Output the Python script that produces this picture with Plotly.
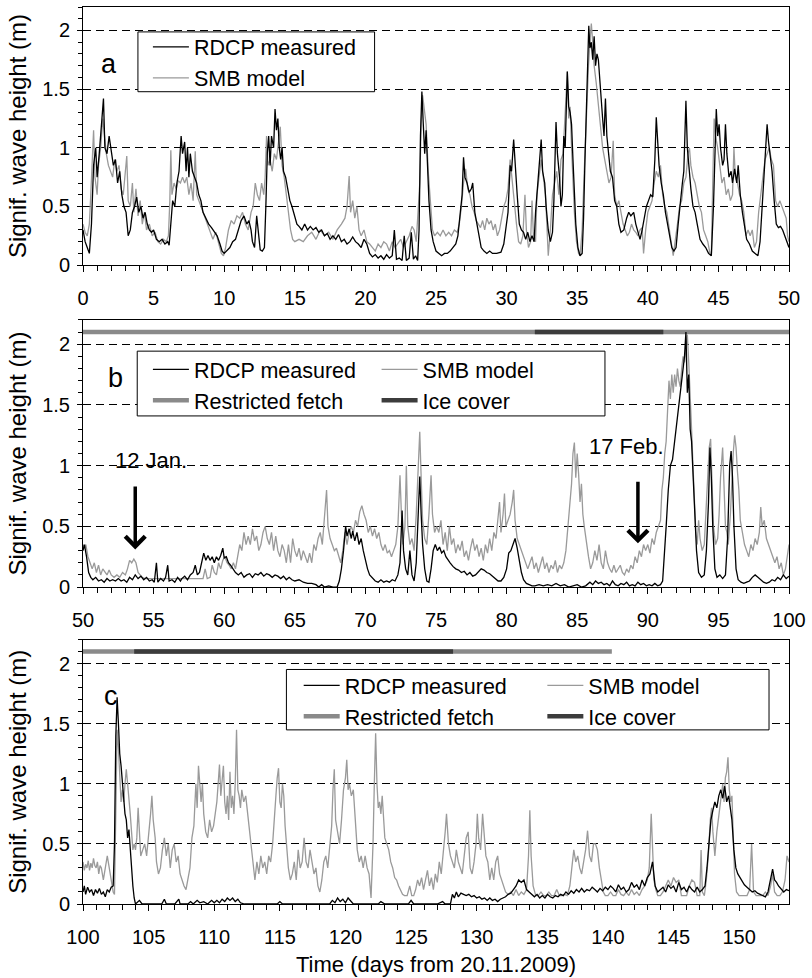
import plotly.graph_objects as go

# ---------------- Panel a (days 0-50) ----------------
A_RDCP_T = [0.0,0.15,0.3,0.45,0.6,0.75,0.9,1.0,1.15,1.3,1.45,1.55,1.7,1.85,2.0,2.15,2.3,2.45,2.6,2.75,2.9,3.05,3.2,3.35,3.5,3.65,3.8,3.95,4.1,4.25,4.4,4.55,4.7,4.85,5.0,5.2,5.4,5.6,5.8,6.0,6.1,6.2,6.35,6.5,6.65,6.8,6.95,7.05,7.2,7.3,7.4,7.5,7.6,7.75,7.9,8.05,8.2,8.35,8.5,8.7,8.9,9.1,9.3,9.5,9.7,9.85,10.0,10.2,10.4,10.6,10.8,11.0,11.2,11.4,11.6,11.75,11.9,12.0,12.15,12.3,12.4,12.55,12.7,12.85,12.95,13.05,13.15,13.25,13.35,13.5,13.6,13.7,13.8,13.9,14.0,14.1,14.2,14.35,14.5,14.65,14.8,15.0,15.15,15.3,15.5,15.7,15.9,16.1,16.3,16.5,16.7,16.9,17.1,17.3,17.5,17.7,17.9,18.1,18.3,18.5,18.7,18.9,19.1,19.3,19.5,19.7,19.9,20.1,20.3,20.5,20.7,20.9,21.1,21.3,21.5,21.7,21.9,22.05,22.2,22.4,22.6,22.75,22.9,23.1,23.25,23.4,23.55,23.7,23.8,23.9,24.0,24.1,24.2,24.3,24.4,24.5,24.65,24.8,25.0,25.2,25.4,25.6,25.8,26.0,26.2,26.4,26.55,26.7,26.85,26.95,27.05,27.2,27.35,27.5,27.6,27.75,27.9,28.05,28.2,28.4,28.6,28.8,29.0,29.3,29.6,29.8,29.95,30.1,30.25,30.35,30.5,30.6,30.75,30.9,31.05,31.2,31.35,31.5,31.65,31.8,31.95,32.05,32.2,32.3,32.45,32.55,32.7,32.8,32.95,33.1,33.25,33.35,33.5,33.6,33.75,33.85,33.95,34.05,34.15,34.3,34.4,34.5,34.6,34.7,34.8,34.9,35.05,35.2,35.35,35.45,35.55,35.65,35.75,35.82,35.9,36.0,36.1,36.2,36.3,36.4,36.5,36.6,36.7,36.8,36.9,37.0,37.1,37.2,37.35,37.5,37.65,37.8,37.95,38.1,38.3,38.5,38.65,38.8,39.0,39.15,39.3,39.45,39.6,39.75,39.9,40.05,40.2,40.35,40.5,40.6,40.7,40.8,40.95,41.1,41.25,41.4,41.55,41.7,41.85,42.0,42.15,42.3,42.45,42.55,42.7,42.8,42.9,43.05,43.2,43.35,43.5,43.7,43.9,44.1,44.3,44.5,44.65,44.75,44.85,44.95,45.05,45.15,45.3,45.4,45.5,45.6,45.75,45.9,46.0,46.15,46.3,46.4,46.55,46.7,46.85,47.0,47.2,47.4,47.6,47.8,47.95,48.1,48.25,48.35,48.45,48.55,48.65,48.8,48.95,49.1,49.25,49.4,49.55,49.7,49.85,50.0]
A_RDCP_H = [0.30,0.2,0.15,0.1,0.35,0.85,1.0,0.75,0.95,1.2,1.42,1.0,0.95,1.1,0.95,0.85,0.9,0.7,0.8,0.6,0.5,0.45,0.25,0.3,0.45,0.5,0.58,0.45,0.5,0.4,0.45,0.35,0.3,0.28,0.3,0.22,0.2,0.22,0.18,0.2,0.17,0.3,0.55,0.5,0.7,0.8,1.1,0.95,1.05,0.8,1.0,0.75,0.95,0.8,0.75,0.7,0.6,0.55,0.45,0.4,0.35,0.32,0.28,0.25,0.18,0.12,0.1,0.13,0.15,0.2,0.22,0.3,0.38,0.42,0.35,0.38,0.3,0.2,0.15,0.42,0.3,0.13,0.12,0.15,0.5,0.95,1.1,0.85,1.1,1.0,1.33,1.15,1.25,1.0,0.9,1.0,0.8,0.75,0.65,0.55,0.5,0.4,0.35,0.33,0.3,0.35,0.3,0.33,0.3,0.32,0.28,0.3,0.25,0.27,0.22,0.25,0.22,0.26,0.2,0.22,0.18,0.2,0.24,0.2,0.18,0.15,0.22,0.18,0.1,0.07,0.09,0.06,0.08,0.05,0.09,0.06,0.08,0.3,0.05,0.06,0.04,0.25,0.04,0.06,0.28,0.05,0.08,0.04,0.3,1.1,1.48,1.2,0.95,1.15,0.8,0.55,0.3,0.2,0.12,0.1,0.08,0.1,0.1,0.12,0.15,0.18,0.25,0.4,0.6,0.92,0.75,0.7,0.62,0.65,0.7,0.45,0.35,0.22,0.15,0.12,0.1,0.12,0.1,0.1,0.11,0.18,0.3,0.45,0.85,0.8,1.07,0.85,0.6,0.35,0.3,0.28,0.22,0.28,0.2,0.25,0.2,0.45,0.7,0.85,1.07,0.8,0.7,0.5,0.3,0.2,0.28,0.55,1.22,0.95,0.75,0.5,0.6,1.1,1.0,1.65,1.35,1.3,1.2,0.9,0.6,0.35,0.15,0.08,0.1,0.4,0.9,1.3,1.85,2.04,1.85,1.9,1.75,1.95,1.7,1.8,1.75,1.55,1.4,1.25,1.1,1.42,1.1,1.0,0.8,0.75,0.55,0.5,0.35,0.28,0.3,0.4,0.45,0.42,0.45,0.35,0.28,0.22,0.3,0.4,0.5,0.55,0.6,0.58,0.9,1.26,1.0,0.85,0.7,0.6,0.45,0.35,0.25,0.15,0.12,0.15,0.35,0.55,0.7,0.8,1.4,1.0,0.85,0.65,0.5,0.45,0.35,0.22,0.18,0.15,0.1,0.08,0.5,1.0,1.33,1.1,1.2,1.0,0.85,0.9,1.2,0.95,0.75,0.8,0.7,0.82,0.7,0.85,0.6,0.45,0.35,0.22,0.18,0.12,0.1,0.08,0.2,0.55,0.8,1.0,1.2,1.05,0.95,0.8,0.55,0.35,0.32,0.33,0.3,0.25,0.2,0.15]

A_SMB_T = [0.0,0.15,0.3,0.45,0.55,0.65,0.75,0.85,1.0,1.1,1.25,1.4,1.5,1.65,1.8,1.95,2.1,2.25,2.4,2.55,2.7,2.85,2.95,3.1,3.2,3.35,3.5,3.6,3.75,3.9,4.05,4.2,4.35,4.5,4.7,4.9,5.1,5.3,5.5,5.7,5.9,6.05,6.15,6.22,6.3,6.45,6.6,6.75,6.9,7.05,7.2,7.35,7.5,7.65,7.8,7.95,8.05,8.2,8.4,8.6,8.8,9.0,9.2,9.4,9.6,9.8,9.95,10.1,10.3,10.5,10.7,10.9,11.1,11.3,11.5,11.7,11.9,12.05,12.2,12.35,12.5,12.65,12.8,12.9,13.0,13.1,13.25,13.4,13.55,13.7,13.85,13.97,14.1,14.25,14.4,14.55,14.7,14.85,15.0,15.3,15.6,15.9,16.2,16.5,16.8,17.1,17.4,17.7,18.0,18.3,18.55,18.7,18.85,18.95,19.1,19.25,19.4,19.55,19.7,19.9,20.1,20.3,20.5,20.7,20.9,21.1,21.3,21.5,21.7,21.9,22.1,22.3,22.5,22.7,22.9,23.1,23.3,23.45,23.6,23.75,23.85,23.95,24.05,24.15,24.3,24.45,24.6,24.75,24.9,25.1,25.3,25.5,25.7,25.9,26.1,26.3,26.5,26.65,26.8,26.95,27.1,27.25,27.4,27.55,27.7,27.85,28.0,28.15,28.3,28.45,28.6,28.75,28.9,29.05,29.2,29.35,29.5,29.65,29.8,29.95,30.1,30.25,30.4,30.55,30.7,30.85,31.0,31.15,31.3,31.4,31.55,31.7,31.8,31.9,32.05,32.15,32.3,32.45,32.6,32.75,32.85,32.95,33.1,33.25,33.4,33.55,33.7,33.85,34.0,34.1,34.2,34.3,34.4,34.5,34.6,34.7,34.8,34.95,35.1,35.2,35.35,35.5,35.65,35.8,35.9,36.0,36.1,36.2,36.35,36.5,36.65,36.8,36.95,37.1,37.25,37.4,37.55,37.65,37.8,37.95,38.1,38.25,38.4,38.55,38.7,38.85,39.0,39.15,39.3,39.45,39.6,39.7,39.85,40.0,40.15,40.3,40.45,40.6,40.75,40.9,41.05,41.2,41.35,41.5,41.65,41.8,41.95,42.1,42.25,42.4,42.55,42.7,42.85,42.95,43.05,43.2,43.35,43.5,43.65,43.8,43.95,44.1,44.25,44.4,44.5,44.6,44.7,44.8,44.95,45.1,45.25,45.4,45.55,45.7,45.85,46.0,46.1,46.2,46.35,46.5,46.65,46.8,46.95,47.1,47.25,47.4,47.55,47.7,47.85,48.0,48.15,48.3,48.45,48.6,48.75,48.9,49.05,49.2,49.35,49.5,49.65,49.8,49.9,50.0]
A_SMB_H = [0.35,0.28,0.25,0.35,0.6,0.9,1.15,0.75,0.6,0.85,1.0,1.25,1.1,0.95,0.85,0.8,0.75,0.9,0.8,0.85,0.65,0.6,0.75,0.93,0.55,0.5,0.7,0.45,0.65,0.42,0.55,0.35,0.45,0.3,0.35,0.25,0.28,0.2,0.18,0.22,0.2,0.25,0.55,0.98,0.6,0.7,0.65,0.72,0.7,0.75,0.7,0.75,0.6,0.7,0.55,0.97,0.6,0.55,0.5,0.42,0.35,0.3,0.22,0.28,0.2,0.1,0.08,0.15,0.3,0.38,0.35,0.42,0.4,0.45,0.35,0.3,0.45,0.5,0.7,0.6,0.55,0.7,0.6,0.75,1.1,0.85,0.9,0.8,0.95,0.9,1.05,1.18,0.85,0.75,0.6,0.45,0.3,0.22,0.2,0.22,0.2,0.25,0.28,0.22,0.3,0.25,0.28,0.22,0.3,0.35,0.4,0.5,0.76,0.45,0.55,0.4,0.5,0.3,0.25,0.3,0.2,0.18,0.15,0.12,0.18,0.15,0.2,0.18,0.12,0.2,0.15,0.18,0.22,0.15,0.2,0.25,0.33,0.3,0.2,0.45,0.7,1.2,1.45,1.35,1.2,0.8,0.55,0.3,0.25,0.28,0.25,0.3,0.25,0.28,0.25,0.3,0.28,0.35,0.5,0.7,0.82,0.65,0.6,0.5,0.45,0.38,0.35,0.32,0.38,0.3,0.4,0.35,0.38,0.3,0.35,0.25,0.3,0.4,0.5,0.55,0.65,0.9,0.7,0.55,0.35,0.2,0.18,0.25,0.6,0.3,0.15,0.2,0.55,0.25,0.2,0.6,0.75,0.9,0.75,0.6,0.35,0.08,0.3,0.6,0.7,0.8,0.6,0.9,0.95,1.2,1.4,1.65,1.25,1.35,1.0,0.7,0.45,0.2,0.1,0.08,0.3,0.8,1.3,1.7,1.9,2.06,1.9,1.7,1.55,1.35,1.2,1.0,0.9,0.8,0.7,0.75,1.06,0.6,0.5,0.55,0.45,0.35,0.3,0.25,0.28,0.35,0.3,0.28,0.25,0.3,0.32,0.1,0.3,0.45,0.5,0.55,0.7,0.8,0.75,0.85,0.6,0.5,0.45,0.3,0.2,0.08,0.2,0.35,0.5,0.55,0.7,0.75,0.95,1.0,0.85,0.75,0.7,0.6,0.5,0.45,0.3,0.25,0.2,0.1,0.08,0.7,1.25,1.1,1.0,0.85,0.7,0.75,0.6,0.65,0.55,0.6,1.0,0.75,0.7,0.6,0.55,0.45,0.25,0.3,0.25,0.3,0.15,0.2,0.45,0.6,0.75,0.9,0.95,1.0,0.9,0.85,0.55,0.5,0.55,0.5,0.45,0.4,0.25,0.2]

# ---------------- Panel b (days 50-100) ----------------
B_RDCP_T = [50.0,50.1,50.25,50.4,50.55,50.7,50.9,51.1,51.3,51.5,51.7,51.9,52.1,52.3,52.5,52.7,52.9,53.1,53.3,53.5,53.7,53.9,54.1,54.3,54.5,54.7,54.9,55.05,55.2,55.3,55.5,55.7,55.85,56.0,56.1,56.3,56.5,56.7,56.9,57.0,57.2,57.4,57.6,57.8,57.95,58.1,58.25,58.4,58.55,58.7,58.85,59.0,59.15,59.3,59.45,59.6,59.75,59.9,60.0,60.15,60.3,60.45,60.6,60.8,61.0,61.2,61.4,61.6,61.8,62.0,62.2,62.4,62.6,62.8,63.0,63.2,63.4,63.6,63.8,64.0,64.2,64.4,64.6,64.8,65.0,65.3,65.6,65.9,66.2,66.5,66.7,66.9,67.1,67.4,67.7,68.0,68.15,68.3,68.45,68.6,68.7,68.85,69.0,69.1,69.25,69.4,69.55,69.7,69.85,70.0,70.15,70.3,70.5,70.7,70.9,71.1,71.3,71.5,71.7,71.9,72.1,72.3,72.45,72.6,72.7,72.85,73.0,73.15,73.3,73.45,73.6,73.7,73.85,73.95,74.05,74.2,74.35,74.5,74.65,74.8,74.95,75.1,75.25,75.4,75.55,75.7,75.85,76.0,76.2,76.4,76.6,76.8,77.0,77.2,77.4,77.6,77.8,78.0,78.2,78.4,78.6,78.8,79.0,79.2,79.4,79.6,79.8,80.0,80.15,80.3,80.45,80.6,80.75,80.9,81.05,81.2,81.4,81.6,81.8,82.0,82.3,82.6,82.9,83.2,83.5,83.8,84.1,84.4,84.7,85.0,85.3,85.6,85.9,86.1,86.3,86.5,86.7,86.9,87.1,87.3,87.5,87.7,87.9,88.1,88.3,88.5,88.7,88.9,89.1,89.3,89.5,89.7,89.9,90.1,90.3,90.5,90.7,90.9,91.05,91.15,91.3,91.45,91.6,91.75,91.9,92.0,92.1,92.2,92.3,92.4,92.5,92.6,92.7,92.8,92.9,93.0,93.1,93.2,93.3,93.45,93.6,93.8,94.0,94.15,94.3,94.4,94.5,94.6,94.75,94.9,95.1,95.3,95.5,95.65,95.8,95.9,96.0,96.1,96.25,96.4,96.6,96.8,97.0,97.2,97.4,97.6,97.8,98.0,98.2,98.4,98.6,98.8,99.0,99.2,99.4,99.6,99.8,100.0]
B_RDCP_H = [0.3,0.35,0.25,0.12,0.08,0.06,0.08,0.05,0.06,0.04,0.07,0.05,0.06,0.05,0.07,0.05,0.06,0.04,0.08,0.06,0.1,0.07,0.09,0.06,0.08,0.05,0.06,0.04,0.2,0.04,0.07,0.05,0.08,0.18,0.05,0.06,0.04,0.08,0.05,0.07,0.09,0.06,0.1,0.12,0.18,0.1,0.12,0.2,0.28,0.22,0.26,0.22,0.25,0.2,0.25,0.22,0.26,0.32,0.24,0.25,0.2,0.18,0.15,0.12,0.1,0.12,0.08,0.1,0.11,0.08,0.11,0.1,0.12,0.09,0.11,0.1,0.08,0.1,0.09,0.07,0.09,0.06,0.08,0.06,0.05,0.06,0.04,0.03,0.03,0.02,0.0,0.02,0.0,0.01,0.0,0.0,0.05,0.15,0.3,0.5,0.42,0.48,0.4,0.46,0.38,0.45,0.35,0.4,0.3,0.22,0.15,0.1,0.07,0.05,0.04,0.06,0.04,0.05,0.04,0.06,0.05,0.1,0.2,0.63,0.3,0.15,0.1,0.3,0.1,0.05,0.2,0.5,0.91,0.6,0.35,0.15,0.05,0.04,0.15,0.3,0.35,0.3,0.33,0.28,0.3,0.25,0.22,0.2,0.17,0.15,0.14,0.12,0.13,0.1,0.12,0.09,0.1,0.13,0.15,0.14,0.12,0.11,0.09,0.07,0.05,0.05,0.08,0.15,0.28,0.3,0.35,0.4,0.32,0.2,0.12,0.06,0.03,0.02,0.01,0.01,0.02,0.01,0.02,0.01,0.03,0.01,0.02,0.0,0.01,0.02,0.0,0.01,0.04,0.02,0.05,0.03,0.04,0.02,0.03,0.01,0.05,0.02,0.01,0.03,0.02,0.04,0.01,0.02,0.01,0.04,0.02,0.03,0.01,0.02,0.01,0.03,0.01,0.02,0.05,0.2,0.5,0.8,1.0,1.05,1.2,1.3,1.4,1.5,1.55,1.65,1.75,1.9,2.1,1.6,1.75,1.3,1.2,0.9,0.6,0.3,0.12,0.08,0.1,0.3,0.7,1.15,0.9,0.5,0.15,0.08,0.1,0.07,0.1,0.4,1.0,1.12,0.9,0.5,0.15,0.06,0.04,0.03,0.04,0.05,0.08,0.1,0.08,0.06,0.04,0.03,0.04,0.06,0.05,0.08,0.06,0.1,0.07,0.09]

B_SMB_T = [50.0,50.1,50.2,50.35,50.5,50.65,50.8,50.95,51.1,51.25,51.4,51.55,51.7,51.85,52.0,52.2,52.4,52.6,52.8,53.0,53.15,53.3,53.45,53.6,53.75,53.9,54.05,54.2,54.4,54.7,55.0,55.3,55.6,55.9,56.2,56.5,56.8,57.1,57.4,57.7,58.0,58.3,58.5,58.65,58.8,59.0,59.15,59.3,59.45,59.6,59.75,59.9,60.05,60.2,60.35,60.5,60.65,60.8,60.95,61.1,61.25,61.4,61.55,61.7,61.85,62.0,62.15,62.3,62.45,62.6,62.75,62.9,63.05,63.2,63.35,63.5,63.65,63.8,63.95,64.1,64.25,64.4,64.55,64.7,64.85,65.0,65.15,65.3,65.45,65.6,65.75,65.9,66.05,66.2,66.35,66.5,66.65,66.8,66.95,67.1,67.25,67.35,67.5,67.65,67.8,67.95,68.1,68.25,68.4,68.55,68.7,68.85,69.0,69.15,69.3,69.45,69.6,69.75,69.9,70.05,70.2,70.35,70.5,70.65,70.8,70.95,71.1,71.25,71.4,71.55,71.7,71.85,72.0,72.15,72.3,72.45,72.55,72.65,72.8,72.9,73.0,73.15,73.3,73.45,73.6,73.75,73.85,73.95,74.05,74.2,74.35,74.5,74.65,74.75,74.9,75.05,75.2,75.35,75.5,75.65,75.8,75.95,76.1,76.25,76.4,76.55,76.7,76.85,77.0,77.15,77.3,77.45,77.6,77.75,77.9,78.05,78.2,78.35,78.5,78.65,78.8,78.95,79.1,79.25,79.4,79.5,79.6,79.75,79.85,79.95,80.1,80.25,80.4,80.5,80.6,80.75,80.9,81.05,81.2,81.35,81.5,81.65,81.8,81.95,82.1,82.25,82.4,82.55,82.7,82.85,83.0,83.15,83.3,83.45,83.6,83.75,83.9,84.05,84.2,84.35,84.5,84.6,84.7,84.8,84.9,85.0,85.1,85.2,85.3,85.4,85.5,85.65,85.8,85.95,86.1,86.25,86.4,86.55,86.7,86.85,87.0,87.15,87.3,87.45,87.6,87.75,87.9,88.05,88.2,88.35,88.5,88.65,88.8,88.95,89.1,89.25,89.4,89.55,89.7,89.85,90.0,90.15,90.3,90.45,90.6,90.75,90.9,91.0,91.1,91.2,91.3,91.4,91.5,91.6,91.7,91.8,91.9,92.0,92.1,92.2,92.3,92.4,92.5,92.6,92.7,92.8,92.9,93.0,93.1,93.2,93.3,93.4,93.5,93.6,93.7,93.85,94.0,94.1,94.2,94.35,94.45,94.55,94.65,94.8,94.95,95.05,95.15,95.3,95.4,95.5,95.6,95.7,95.85,95.95,96.05,96.15,96.25,96.35,96.45,96.55,96.7,96.85,97.0,97.15,97.3,97.45,97.6,97.75,97.9,98.0,98.1,98.25,98.4,98.55,98.7,98.85,99.0,99.15,99.3,99.45,99.6,99.75,99.9,100.0]
B_SMB_H = [0.35,0.32,0.35,0.25,0.2,0.15,0.2,0.12,0.18,0.1,0.15,0.12,0.1,0.14,0.1,0.08,0.1,0.08,0.12,0.1,0.15,0.22,0.2,0.23,0.2,0.12,0.1,0.08,0.07,0.07,0.07,0.07,0.07,0.07,0.07,0.07,0.07,0.07,0.07,0.07,0.07,0.07,0.07,0.15,0.07,0.08,0.18,0.12,0.1,0.2,0.15,0.22,0.25,0.2,0.18,0.15,0.2,0.15,0.25,0.35,0.3,0.45,0.35,0.42,0.35,0.48,0.38,0.42,0.3,0.35,0.45,0.5,0.4,0.35,0.45,0.3,0.42,0.3,0.25,0.35,0.3,0.2,0.35,0.2,0.4,0.3,0.25,0.32,0.22,0.3,0.25,0.2,0.28,0.2,0.35,0.3,0.4,0.45,0.35,0.55,0.8,0.5,0.4,0.35,0.3,0.32,0.25,0.2,0.3,0.45,0.35,0.45,0.5,0.45,0.55,0.5,0.62,0.67,0.6,0.55,0.45,0.5,0.42,0.48,0.4,0.45,0.35,0.3,0.35,0.28,0.3,0.25,0.3,0.35,0.5,0.92,0.6,0.35,0.5,1.0,0.5,0.35,0.4,0.3,0.6,1.0,1.28,0.9,0.55,0.4,0.35,0.6,0.92,0.6,0.45,0.5,0.45,0.55,0.35,0.45,0.3,0.5,0.35,0.4,0.28,0.35,0.3,0.38,0.25,0.3,0.22,0.32,0.4,0.3,0.35,0.25,0.32,0.22,0.35,0.28,0.4,0.3,0.45,0.4,0.55,0.7,0.45,0.6,0.77,0.5,0.55,0.6,0.7,0.8,0.55,0.4,0.35,0.3,0.25,0.2,0.15,0.2,0.25,0.15,0.2,0.12,0.18,0.25,0.15,0.2,0.12,0.18,0.15,0.22,0.12,0.18,0.15,0.2,0.3,0.5,0.7,0.85,1.1,1.19,0.9,1.1,0.93,0.7,0.85,0.6,0.5,0.35,0.25,0.15,0.2,0.3,0.22,0.35,0.2,0.15,0.3,0.2,0.15,0.12,0.18,0.12,0.15,0.18,0.12,0.1,0.15,0.12,0.18,0.15,0.25,0.2,0.3,0.25,0.35,0.3,0.35,0.28,0.4,0.35,0.45,0.5,0.55,0.8,0.9,1.1,1.2,1.45,1.7,1.55,1.75,1.6,1.75,1.65,1.8,1.7,1.65,1.8,1.9,1.85,2.0,2.08,1.85,1.5,1.3,1.0,0.65,0.45,0.35,0.55,0.4,0.3,0.35,0.6,0.9,1.15,1.22,0.8,0.5,0.35,0.4,0.6,0.9,1.15,0.85,0.5,0.45,0.35,0.6,0.9,1.1,1.25,1.15,0.95,0.8,0.55,0.45,0.35,0.3,0.25,0.35,0.3,0.4,0.35,0.45,0.66,0.5,0.55,0.4,0.35,0.3,0.25,0.2,0.25,0.15,0.2,0.1,0.15,0.25,0.35]

B_FETCH_T = [50.0, 100.0]
B_FETCH_H = [2.1, 2.1]
B_ICE_T = [82.0, 91.1]
B_ICE_H = [2.1, 2.1]

# ---------------- Panel c (days 100-153.8) ----------------
C_RDCP_T = [100.0,100.1,100.2,100.35,100.5,100.65,100.8,100.95,101.1,101.25,101.4,101.55,101.7,101.85,102.0,102.15,102.3,102.4,102.5,102.6,102.7,102.8,102.9,103.0,103.1,103.2,103.3,103.4,103.5,103.6,103.7,103.8,103.9,104.0,104.3,104.5,105.0,105.5,106.0,106.2,106.35,107.0,107.3,107.4,108.0,108.2,108.4,108.7,108.9,109.2,109.5,109.8,110.0,110.2,110.4,110.6,110.8,111.0,111.2,111.4,111.6,111.8,112.0,112.3,113.0,114.0,114.8,115.0,115.2,116.0,117.0,118.0,118.8,119.0,119.2,119.4,119.6,119.8,120.0,120.2,120.4,120.6,121.0,122.0,122.5,122.7,123.0,124.0,124.8,125.0,125.2,126.0,127.0,127.4,127.6,128.0,128.15,128.3,128.45,128.6,128.8,129.0,129.2,129.4,129.6,129.8,130.0,130.2,130.4,130.6,130.8,131.0,131.2,131.4,131.6,131.8,132.0,132.2,132.4,132.6,132.8,133.0,133.2,133.4,133.6,133.8,134.0,134.2,134.4,134.6,134.8,135.0,135.2,135.4,135.6,135.8,136.0,136.2,136.4,136.6,136.8,137.0,137.2,137.4,137.6,137.8,138.0,138.2,138.4,138.6,138.8,139.0,139.2,139.4,139.6,139.8,140.0,140.2,140.4,140.6,140.8,141.0,141.2,141.4,141.6,141.8,142.0,142.2,142.4,142.6,142.8,143.0,143.2,143.4,143.6,143.8,144.0,144.2,144.4,144.6,144.8,145.0,145.2,145.4,145.6,145.8,146.0,146.2,146.4,146.6,146.8,147.0,147.2,147.4,147.55,147.7,147.85,148.0,148.15,148.3,148.45,148.6,148.75,148.9,149.05,149.2,149.35,149.45,149.6,149.75,149.9,150.05,150.2,150.4,150.6,150.8,151.0,151.2,151.4,151.6,151.8,152.0,152.2,152.4,152.55,152.7,152.85,153.0,153.2,153.4,153.6,153.8]
C_RDCP_H = [0.1,0.15,0.08,0.14,0.1,0.12,0.07,0.12,0.09,0.13,0.08,0.1,0.06,0.12,0.1,0.14,0.15,0.5,1.4,1.72,1.5,1.25,1.15,1.0,0.9,0.75,0.7,0.55,0.62,0.45,0.3,0.15,0.05,0.0,0.03,0.0,0.0,0.0,0.0,0.04,0.0,0.0,0.04,0.0,0.0,0.02,0.0,0.03,0.01,0.02,0.0,0.03,0.01,0.03,0.01,0.04,0.02,0.05,0.03,0.05,0.02,0.04,0.01,0.0,0.0,0.0,0.0,0.02,0.0,0.0,0.0,0.0,0.0,0.03,0.01,0.05,0.02,0.04,0.01,0.05,0.02,0.0,0.0,0.0,0.0,0.02,0.0,0.0,0.0,0.03,0.0,0.0,0.0,0.02,0.0,0.0,0.08,0.05,0.1,0.06,0.09,0.08,0.07,0.08,0.06,0.07,0.05,0.06,0.04,0.05,0.03,0.05,0.03,0.04,0.02,0.04,0.05,0.06,0.08,0.09,0.12,0.15,0.2,0.18,0.2,0.12,0.1,0.08,0.06,0.08,0.05,0.07,0.05,0.08,0.06,0.05,0.07,0.06,0.08,0.07,0.1,0.08,0.11,0.09,0.12,0.1,0.13,0.1,0.12,0.11,0.14,0.12,0.1,0.13,0.11,0.14,0.12,0.15,0.13,0.1,0.16,0.12,0.14,0.1,0.12,0.18,0.14,0.16,0.12,0.2,0.15,0.22,0.25,0.35,0.15,0.1,0.12,0.14,0.1,0.16,0.13,0.15,0.1,0.18,0.12,0.14,0.1,0.15,0.12,0.1,0.14,0.1,0.12,0.15,0.3,0.5,0.7,0.78,0.85,0.8,0.9,0.95,0.88,0.98,0.85,0.9,0.8,0.7,0.45,0.3,0.25,0.22,0.2,0.16,0.14,0.12,0.1,0.11,0.09,0.08,0.07,0.06,0.1,0.2,0.29,0.2,0.18,0.15,0.12,0.1,0.12,0.11]

C_SMB_T = [100.0,100.1,100.2,100.3,100.4,100.5,100.6,100.7,100.8,100.9,101.0,101.1,101.2,101.3,101.4,101.55,101.7,101.85,102.0,102.15,102.3,102.4,102.5,102.6,102.7,102.8,102.9,103.0,103.1,103.2,103.3,103.4,103.5,103.6,103.7,103.8,103.9,104.0,104.1,104.2,104.3,104.4,104.55,104.7,104.85,105.0,105.15,105.25,105.35,105.5,105.6,105.75,105.9,106.05,106.2,106.35,106.5,106.65,106.8,106.95,107.1,107.25,107.4,107.55,107.7,107.85,108.0,108.15,108.3,108.45,108.6,108.7,108.8,108.9,109.0,109.1,109.2,109.35,109.5,109.65,109.8,109.95,110.1,110.2,110.3,110.4,110.5,110.6,110.7,110.8,110.9,111.0,111.1,111.2,111.3,111.4,111.5,111.6,111.7,111.8,111.9,112.0,112.1,112.25,112.4,112.55,112.7,112.85,113.0,113.1,113.25,113.4,113.55,113.7,113.85,114.0,114.15,114.3,114.45,114.6,114.7,114.8,114.9,115.0,115.1,115.2,115.3,115.4,115.5,115.65,115.8,115.95,116.1,116.25,116.4,116.55,116.7,116.85,117.0,117.15,117.3,117.45,117.6,117.75,117.9,118.05,118.2,118.35,118.5,118.65,118.8,118.95,119.05,119.15,119.25,119.4,119.55,119.7,119.85,120.0,120.1,120.2,120.3,120.45,120.6,120.75,120.9,121.05,121.2,121.35,121.5,121.65,121.8,121.95,122.1,122.2,122.3,122.4,122.5,122.6,122.7,122.8,122.9,123.0,123.15,123.3,123.45,123.6,123.75,123.9,124.05,124.2,124.35,124.5,124.7,124.9,125.05,125.2,125.35,125.5,125.65,125.8,125.95,126.1,126.25,126.4,126.55,126.7,126.85,127.0,127.15,127.3,127.45,127.6,127.7,127.85,128.0,128.15,128.3,128.45,128.6,128.75,128.9,129.05,129.2,129.35,129.5,129.65,129.8,129.95,130.05,130.15,130.3,130.45,130.55,130.7,130.85,131.0,131.15,131.3,131.45,131.6,131.75,131.9,132.05,132.2,132.4,132.6,132.8,133.0,133.2,133.4,133.6,133.8,133.95,134.05,134.15,134.3,134.5,134.7,134.9,135.1,135.3,135.5,135.7,135.9,136.1,136.3,136.5,136.7,136.9,137.1,137.25,137.4,137.55,137.7,137.85,138.0,138.15,138.3,138.45,138.6,138.75,138.9,139.05,139.2,139.35,139.5,139.65,139.8,140.0,140.2,140.4,140.6,140.8,141.0,141.2,141.4,141.6,141.8,142.0,142.2,142.4,142.6,142.8,143.0,143.15,143.3,143.4,143.5,143.65,143.8,144.0,144.2,144.4,144.6,144.8,145.0,145.2,145.4,145.6,145.8,146.0,146.2,146.4,146.6,146.8,147.0,147.1,147.2,147.35,147.5,147.65,147.8,147.9,148.0,148.15,148.3,148.45,148.6,148.75,148.85,148.95,149.05,149.15,149.25,149.35,149.45,149.55,149.65,149.8,150.0,150.3,150.6,150.8,150.95,151.1,151.3,151.5,151.8,152.0,152.2,152.4,152.55,152.7,152.9,153.1,153.3,153.5,153.65,153.8]
C_SMB_H = [0.35,0.28,0.33,0.3,0.36,0.28,0.34,0.3,0.38,0.32,0.3,0.35,0.25,0.32,0.3,0.2,0.3,0.4,0.3,0.2,0.1,0.08,0.9,1.45,1.3,1.0,0.85,0.95,0.85,1.0,1.12,1.0,0.9,0.75,0.6,0.45,0.5,0.45,0.55,0.8,0.6,0.4,0.45,0.5,0.4,0.55,0.75,0.9,0.7,0.55,0.35,0.25,0.3,0.45,0.55,0.4,0.5,0.3,0.45,0.5,0.35,0.4,0.25,0.2,0.15,0.12,0.2,0.3,0.55,0.65,1.0,0.8,1.15,1.0,0.85,1.0,0.75,0.6,0.55,0.7,0.6,0.65,0.75,0.85,1.0,1.16,0.9,1.0,1.15,0.85,0.75,0.9,0.7,1.1,0.8,0.9,0.75,1.0,1.45,0.95,0.9,0.8,0.95,0.85,0.9,0.75,0.6,0.45,0.3,0.2,0.35,0.25,0.4,0.3,0.35,0.25,0.4,0.35,0.5,0.7,0.9,1.05,1.13,0.85,0.8,1.0,0.9,0.65,0.5,0.3,0.2,0.25,0.35,0.2,0.45,0.3,0.35,0.55,0.35,0.3,0.45,0.35,0.25,0.3,0.15,0.1,0.2,0.35,0.4,0.3,0.5,0.65,0.95,1.12,0.7,0.6,0.5,0.7,0.95,1.05,1.2,0.95,1.0,0.9,0.95,0.7,0.45,0.35,0.4,0.3,0.4,0.3,0.25,0.05,0.5,1.0,1.42,1.0,0.8,0.85,0.75,0.9,0.7,0.55,0.5,0.45,0.35,0.3,0.22,0.2,0.15,0.12,0.08,0.07,0.07,0.15,0.07,0.07,0.12,0.2,0.15,0.22,0.12,0.2,0.28,0.15,0.22,0.12,0.25,0.18,0.35,0.25,0.4,0.6,0.75,0.5,0.4,0.35,0.3,0.45,0.35,0.3,0.25,0.4,0.55,0.6,0.3,0.25,0.35,0.5,0.75,0.55,0.45,0.75,0.6,0.4,0.35,0.2,0.3,0.2,0.35,0.4,0.25,0.2,0.15,0.1,0.08,0.1,0.07,0.12,0.07,0.1,0.08,0.12,0.4,0.78,0.4,0.15,0.07,0.07,0.1,0.07,0.07,0.1,0.07,0.07,0.12,0.07,0.07,0.08,0.07,0.15,0.3,0.45,0.35,0.4,0.3,0.25,0.35,0.45,0.61,0.4,0.35,0.5,0.5,0.45,0.3,0.2,0.1,0.07,0.07,0.1,0.07,0.07,0.12,0.08,0.07,0.1,0.07,0.12,0.08,0.1,0.07,0.12,0.15,0.2,0.3,0.75,0.4,0.2,0.12,0.07,0.07,0.1,0.15,0.2,0.15,0.22,0.18,0.2,0.07,0.07,0.07,0.15,0.2,0.18,0.07,0.07,0.45,0.1,0.07,0.2,0.4,0.7,0.8,0.6,0.4,0.6,0.75,0.9,1.0,0.85,1.05,1.1,1.22,0.95,0.85,0.9,0.5,0.25,0.1,0.07,0.07,0.07,0.12,0.5,0.1,0.07,0.07,0.07,0.1,0.07,0.15,0.25,0.1,0.07,0.07,0.1,0.2,0.4,0.35]

C_FETCH_T = [100.0, 140.3]
C_FETCH_H = [2.1, 2.1]
C_ICE_T = [103.9, 128.2]
C_ICE_H = [2.1, 2.1]

# ---------------- Text ----------------
NAME_RDCP = "RDCP measured"
NAME_SMB = "SMB model"
NAME_FETCH = "Restricted fetch"
NAME_ICE = "Ice cover"
Y_TITLE = "Signif. wave height (m)"
X_TITLE = "Time (days from 20.11.2009)"

FONT = "Liberation Sans, Arial, sans-serif"
BLACK = "#000000"
GRAY = "#9a9a9a"
FETCH_C = "#8a8a8a"
ICE_C = "#3c3c3c"

W, H = 812, 978
ML, MR, MT, MB = 83, 22, 6, 72
PW = W - ML - MR
PH = H - MT - MB


def px_x(px):
    return (px - ML) / PW


def px_y(py):
    return (H - MB - py) / PH


fig = go.Figure()


def line(x, y, name, color, width, xa, ya, legend, rank, show=True):
    fig.add_trace(go.Scatter(
        x=x, y=y, mode="lines", name=name,
        line=dict(color=color, width=width),
        xaxis=xa, yaxis=ya, legend=legend, legendrank=rank,
        showlegend=show, hoverinfo="skip"))


# panel a
line(A_SMB_T, A_SMB_H, NAME_SMB, GRAY, 1.3, "x", "y", "legend", 2)
line(A_RDCP_T, A_RDCP_H, NAME_RDCP, BLACK, 1.3, "x", "y", "legend", 1)
# panel b
line(B_FETCH_T, B_FETCH_H, NAME_FETCH, FETCH_C, 4.5, "x2", "y2", "legend2", 2)
line(B_ICE_T, B_ICE_H, NAME_ICE, ICE_C, 4.5, "x2", "y2", "legend3", 2)
line(B_SMB_T, B_SMB_H, NAME_SMB, GRAY, 1.3, "x2", "y2", "legend3", 1)
line(B_RDCP_T, B_RDCP_H, NAME_RDCP, BLACK, 1.3, "x2", "y2", "legend2", 1)
# panel c
line(C_FETCH_T, C_FETCH_H, NAME_FETCH, FETCH_C, 4.5, "x3", "y3", "legend4", 2)
line(C_ICE_T, C_ICE_H, NAME_ICE, ICE_C, 4.5, "x3", "y3", "legend5", 2)
line(C_SMB_T, C_SMB_H, NAME_SMB, GRAY, 1.3, "x3", "y3", "legend5", 1)
line(C_RDCP_T, C_RDCP_H, NAME_RDCP, BLACK, 1.3, "x3", "y3", "legend4", 1)

domains = {
    1: [px_y(265), 1.0],
    2: [px_y(588), px_y(320)],
    3: [0.0, px_y(640.7)],
}
xranges = {1: [0, 50], 2: [50, 100], 3: [100, 153.8]}

axis_common = dict(
    showline=True, linecolor=BLACK, linewidth=1, mirror=True,
    ticks="outside", tickcolor=BLACK, zeroline=False,
    tickfont=dict(family=FONT, size=20, color=BLACK),
)

layout = dict(
    width=W, height=H,
    margin=dict(l=ML, r=MR, t=MT, b=MB),
    paper_bgcolor="white", plot_bgcolor="white",
    font=dict(family=FONT, size=20, color=BLACK),
    hovermode=False,
)

for i in (1, 2, 3):
    sx = "" if i == 1 else str(i)
    layout["xaxis" + sx] = dict(
        axis_common, domain=[0, 1], anchor="y" + sx, range=xranges[i],
        tick0=0, dtick=5, ticklen=6, showgrid=False,
        minor=dict(dtick=1, tick0=0, ticks="outside", ticklen=5, tickcolor=BLACK, showgrid=False),
        ticklabelstandoff=9,
        title=dict(text=X_TITLE if i == 3 else "", font=dict(family=FONT, size=22), standoff=9),
    )
    layout["yaxis" + sx] = dict(
        axis_common, domain=domains[i], anchor="x" + sx, range=[0, 2.2],
        tick0=0, dtick=0.5, ticklen=5,
        showgrid=True, gridcolor=BLACK, gridwidth=1, griddash="8px,5px",
        minor=dict(dtick=0.1, tick0=0, ticks="outside", ticklen=4, tickcolor=BLACK, showgrid=False),
        ticklabelstandoff=3,
        title=dict(text=Y_TITLE, font=dict(family=FONT, size=24), standoff=8),
    )

leg_common = dict(
    bgcolor="rgba(0,0,0,0)", borderwidth=0, font=dict(family=FONT, size=21.5, color=BLACK),
    itemwidth=36, xref="paper", yref="paper", xanchor="left", yanchor="top",
    tracegroupgap=0, traceorder="normal", orientation="v",
)
layout["legend"] = dict(leg_common, x=px_x(148), y=px_y(25.5))
layout["legend2"] = dict(leg_common, x=px_x(148), y=px_y(349))
layout["legend3"] = dict(leg_common, x=px_x(377), y=px_y(349))
layout["legend4"] = dict(leg_common, x=px_x(299), y=px_y(666))
layout["legend5"] = dict(leg_common, x=px_x(543), y=px_y(666))

boxes = [(138, 375, 31, 91), (137.3, 605.7, 351.3, 416.3), (286.7, 770, 670.7, 731.3)]
shapes = []
for (x0, x1, y0, y1) in boxes:
    shapes.append(dict(type="rect", xref="paper", yref="paper",
                       x0=px_x(x0), x1=px_x(x1), y0=px_y(y1), y1=px_y(y0),
                       line=dict(color=BLACK, width=1), fillcolor="white", layer="above"))
layout["shapes"] = shapes

ann = []
for txt, xa, ya, xv, yv in [("a", "x", "y", 1.84, 1.71), ("b", "x2", "y2", 52.3, 1.72), ("c", "x3", "y3", 102.1, 1.73)]:
    ann.append(dict(text=txt, xref=xa, yref=ya, x=xv, y=yv, showarrow=False,
                    font=dict(family=FONT, size=27, color=BLACK)))
ann.append(dict(text="12 Jan.", xref="x2", yref="y2", x=54.8, y=1.04, showarrow=False,
                font=dict(family=FONT, size=22, color=BLACK)))
ann.append(dict(text="17 Feb.", xref="x2", yref="y2", x=88.5, y=1.16, showarrow=False,
                font=dict(family=FONT, size=22, color=BLACK)))
for xv, y_tail, y_tip in [(53.7, 0.84, 0.31), (89.3, 0.88, 0.36)]:
    ann.append(dict(text="", xref="x2", yref="y2", x=xv, y=y_tip, axref="x2", ayref="y2",
                    ax=xv, ay=y_tail, showarrow=True, arrowhead=4, arrowsize=1.1,
                    arrowwidth=3.5, arrowcolor=BLACK, standoff=0, startstandoff=0))
layout["annotations"] = ann

fig.update_layout(layout)
fig.write_html("out.html", config={"displayModeBar": False},
               post_script="document.body.style.margin='0px';")
